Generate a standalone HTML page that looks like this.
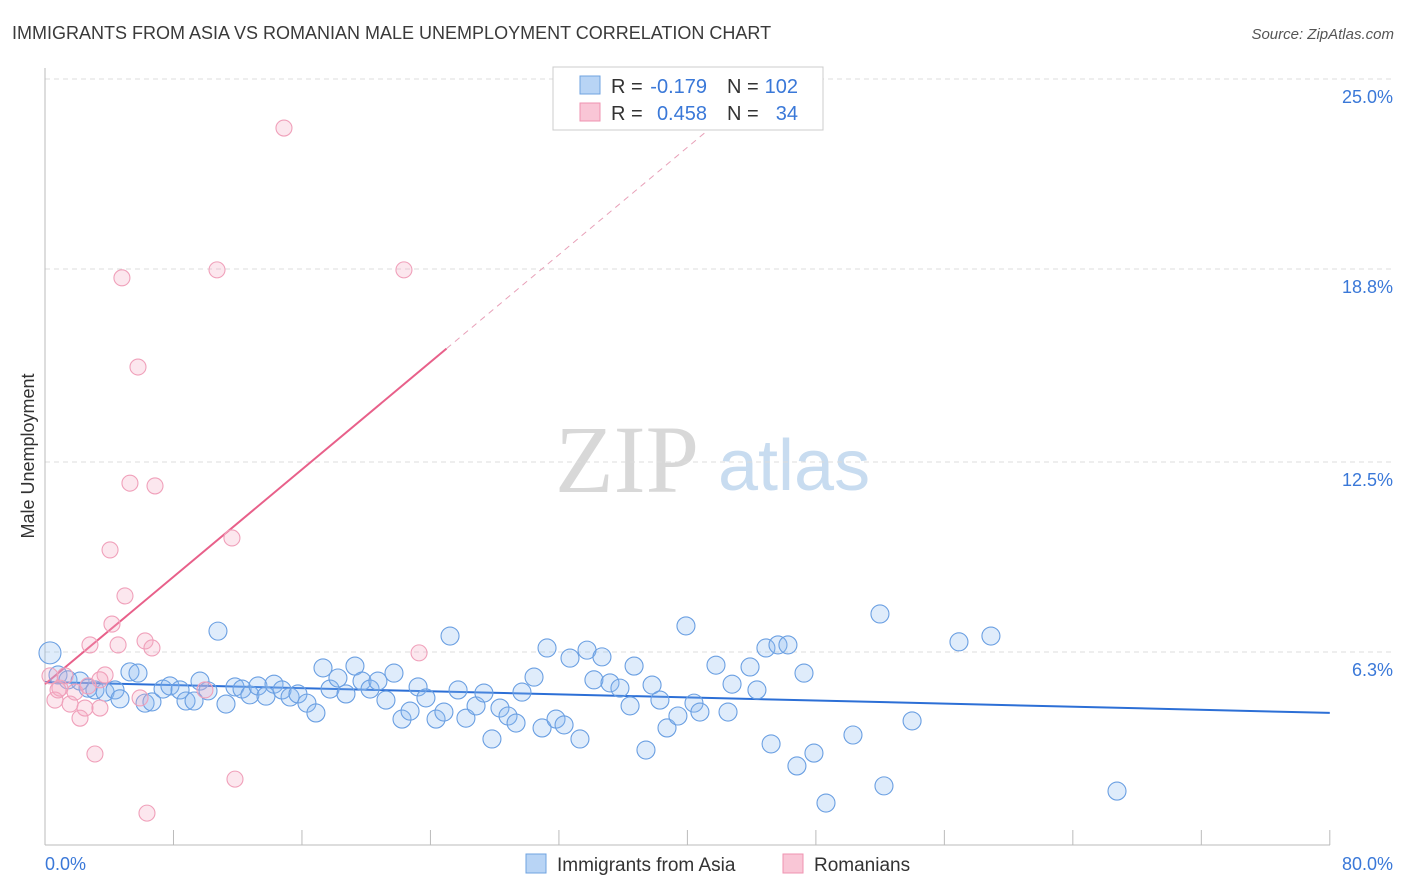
<!DOCTYPE html>
<html><head><meta charset="utf-8">
<style>
body{margin:0;background:#fff;font-family:"Liberation Sans",sans-serif;}
svg{display:block}
</style></head>
<body>
<svg id="chart" width="1406" height="892">
<text x="12" y="39" font-size="18" fill="#3a3a3a">IMMIGRANTS FROM ASIA VS ROMANIAN MALE UNEMPLOYMENT CORRELATION CHART</text>
<text x="1394" y="39" font-size="15" fill="#555" text-anchor="end" font-style="italic">Source: ZipAtlas.com</text>
<text x="34" y="456" font-size="18" fill="#333" text-anchor="middle" transform="rotate(-90 34 456)">Male Unemployment</text>
<g>
<text x="555" y="492" font-size="96" font-family="Liberation Serif,serif" fill="#d8d8d8">ZIP</text>
<text x="718" y="490" font-size="72" fill="#c8dcf0">atlas</text>
</g>
<g id="grid"></g>
<g id="axes"></g>
<g id="trend"></g>
<g id="points"></g>
<g>
<rect x="553" y="67" width="270" height="63" fill="#fff" stroke="#ccc"/>
<rect x="580" y="76" width="20" height="18" fill="#b8d4f5" stroke="#6fa3e0"/>
<text x="611" y="93" font-size="20" fill="#333">R =</text>
<text x="707" y="93" font-size="20" fill="#3a78d8" text-anchor="end">-0.179</text>
<text x="727" y="93" font-size="20" fill="#333">N =</text>
<text x="798" y="93" font-size="20" fill="#3a78d8" text-anchor="end">102</text>
<rect x="580" y="103" width="20" height="18" fill="#f9c6d6" stroke="#ef93b0"/>
<text x="611" y="120" font-size="20" fill="#333">R =</text>
<text x="707" y="120" font-size="20" fill="#3a78d8" text-anchor="end">0.458</text>
<text x="727" y="120" font-size="20" fill="#333">N =</text>
<text x="798" y="120" font-size="20" fill="#3a78d8" text-anchor="end">34</text>
</g>
<g>
<rect x="526" y="854" width="20" height="19" fill="#b8d4f5" stroke="#6fa3e0"/>
<text x="557" y="871" font-size="19" fill="#333">Immigrants from Asia</text>
<rect x="783" y="854" width="20" height="19" fill="#f9c6d6" stroke="#ef93b0"/>
<text x="814" y="871" font-size="19" fill="#333">Romanians</text>
</g>
</svg>
<script>
const yTicks=[6.3,12.5,18.8,25.0];
const yTickLabels=["6.3%","12.5%","18.8%","25.0%"];
const xTickLabels=["0.0%","80.0%"];
const blueX=[.31,.81,1.43,2.18,2.68,3.11,3.74,4.36,4.67,5.29,5.79,6.23,6.66,7.35,7.78,8.41,8.78,9.28,9.65,10.15,10.77,11.27,11.83,12.27,12.76,13.26,13.76,14.26,14.76,15.26,15.75,16.31,16.87,17.31,17.75,18.24,18.74,19.30,19.74,20.24,20.73,21.23,21.73,22.23,22.73,23.23,23.72,24.35,24.84,25.22,25.72,26.21,26.84,27.33,27.83,28.33,28.83,29.33,29.70,30.45,30.95,31.26,31.82,32.32,32.69,33.31,33.75,34.18,34.68,35.18,35.80,36.43,36.68,37.42,37.80,38.29,38.73,39.41,39.91,40.41,40.78,41.78,42.53,42.78,43.90,44.33,44.89,45.21,45.64,46.26,46.82,47.26,47.88,48.63,50.31,51.99,52.24,53.99,56.91,58.90,66.75];
const blueY=[6.27,5.55,5.39,5.35,5.12,5.06,4.99,5.06,4.77,5.65,5.61,4.63,4.67,5.09,5.19,5.06,4.70,4.70,5.35,5.03,6.98,4.60,5.16,5.09,4.90,5.19,4.86,5.25,5.06,4.83,4.93,4.63,4.31,5.78,5.09,5.45,4.93,5.84,5.35,5.09,5.35,4.73,5.61,4.11,4.37,5.16,4.80,4.11,4.34,6.82,5.06,4.14,4.54,4.96,3.46,4.47,4.21,3.98,4.99,5.48,3.82,6.43,4.11,3.92,6.10,3.46,6.36,5.39,6.14,5.29,5.12,4.54,5.84,3.10,5.22,4.73,3.82,4.21,7.15,4.63,4.34,5.87,4.34,5.25,5.81,5.06,6.43,3.30,6.53,6.53,2.58,5.61,3.00,1.37,3.59,7.54,1.93,4.05,6.63,6.82,1.76];
const pinkX=[.31,.62,.93,1.56,1.87,2.18,2.49,2.80,3.11,3.42,3.74,4.05,4.17,4.79,4.98,5.29,5.79,5.92,6.23,6.35,6.66,6.85,9.96,10.71,11.64,11.83,14.88,22.35,23.29,2.68,1.25,.81,4.55,3.42];
const pinkY=[5.52,4.73,5.12,4.60,4.99,4.14,4.47,6.53,2.97,4.47,5.55,9.63,7.21,18.51,8.13,11.81,15.60,4.80,6.66,1.04,6.43,11.72,5.06,18.77,10.02,2.15,23.40,18.77,6.27,5.19,5.52,5.06,6.53,5.39];
const blueTrend=[5.32,-0.0126];
const pinkTrend=[5.25,0.438];
const NS="http://www.w3.org/2000/svg";
const X=v=>45+v*16.06, Y=v=>845-v*30.64;
function mk(p,t,a){const e=document.createElementNS(NS,t);for(const k in a)e.setAttribute(k,a[k]);document.getElementById(p).appendChild(e);return e;}
yTicks.forEach((t,i)=>{
 const l=mk('grid','line',{x1:45,x2:1395,y1:Y(t),y2:Y(t),stroke:'#ddd','stroke-dasharray':'5,4'});
 
 
 const tx=mk('grid','text',{x:1393,y:Y(t)+24,'font-size':18,fill:'#3a78d8','text-anchor':'end'});tx.textContent=yTickLabels[i];
 
 
});
const ax=mk('axes','line',{x1:45,x2:45,y1:68,y2:845,stroke:'#bbb'});


const bx=mk('axes','line',{x1:45,x2:1330,y1:845,y2:845,stroke:'#bbb'});


for(let i=0;i<=10;i++){const t=mk('axes','line',{x1:X(i*8),x2:X(i*8),y1:830,y2:845,stroke:'#bbb'});
 
 }
const xl0=mk('axes','text',{x:45,y:870,'font-size':18,fill:'#3a78d8'});xl0.textContent=xTickLabels[0];


const xl1=mk('axes','text',{x:1393,y:870,'font-size':18,fill:'#3a78d8','text-anchor':'end'});xl1.textContent=xTickLabels[1];


const bt=mk('trend','line',{x1:X(0),y1:Y(blueTrend[0]),x2:X(80),y2:Y(blueTrend[0]+80*blueTrend[1]),stroke:'#2c6fd6','stroke-width':2});


const pt=mk('trend','line',{x1:X(0),y1:Y(pinkTrend[0]),x2:X(25),y2:Y(pinkTrend[0]+25*pinkTrend[1]),stroke:'#e8608a','stroke-width':2});


const pd=mk('trend','line',{x1:X(25),y1:Y(pinkTrend[0]+25*pinkTrend[1]),x2:X(42.3),y2:Y(pinkTrend[0]+42.3*pinkTrend[1]),stroke:'#e8a0b8','stroke-width':1,'stroke-dasharray':'6,5'});


blueX.forEach((v,i)=>{const c=mk('points','circle',{cx:X(v),cy:Y(blueY[i]),r:i==0?11:9,fill:'rgba(140,185,240,0.28)',stroke:'#6a9fe2','stroke-width':1.1});
 
 });
pinkX.forEach((v,i)=>{const c=mk('points','circle',{cx:X(v),cy:Y(pinkY[i]),r:8,fill:'rgba(245,170,195,0.28)',stroke:'#f0a0ba','stroke-width':1.1});
 
 });
</script>
</body></html>
